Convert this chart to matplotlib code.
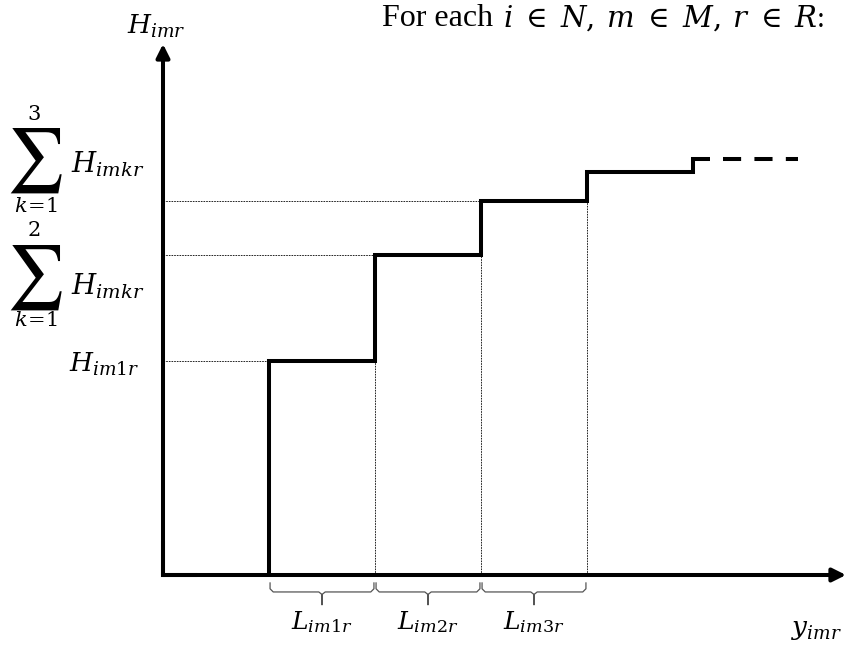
import numpy as np
import matplotlib
matplotlib.use("Agg")
import matplotlib.pyplot as plt

plt.rcParams['mathtext.fontset'] = 'dejavuserif'
plt.rcParams['font.family'] = ['Liberation Serif', 'DejaVu Serif']

# step function: breakpoints along y_imr and height increments H_imkr
breaks = [1.0, 2.0, 3.0, 4.0, 5.0]
increments = [2.02, 1.0, 0.51, 0.27, 0.12]
tail_end = 5.99
levels = np.cumsum(increments)
n_labeled = 3
seg_labels = [r'$L_{im1r}$', r'$L_{im2r}$', r'$L_{im3r}$']

# picture geometry: 106 px per unit, origin at pixel (163, 575)
W, H = 847, 646
U, OX, OY = 106.0, 163.0, 575.0


def pd(px, py):
    return (px - OX) / U, (OY - py) / U


fig = plt.figure(figsize=(W / 100, H / 100), dpi=100)
ax = fig.add_axes([0, 0, 1, 1])
ax.set_xlim(pd(0, 0)[0], pd(W, 0)[0])
ax.set_ylim(pd(0, H)[1], pd(0, 0)[1])
ax.axis('off')

lw_main = 2.9

# axes arrows
x_tip = pd(846, 0)[0]
y_tip = pd(0, 44)[1]
arrow = dict(arrowstyle='-|>', lw=lw_main, color='black', mutation_scale=20,
             shrinkA=0, shrinkB=0)
ax.plot([0, 0.3], [0, 0], color='black', lw=lw_main, solid_capstyle='projecting')
ax.plot([0, 0], [0, 0.3], color='black', lw=lw_main, solid_capstyle='projecting')
ax.annotate('', xy=(x_tip, 0), xytext=(0, 0), arrowprops=arrow)
ax.annotate('', xy=(0, y_tip), xytext=(0, 0), arrowprops=arrow)

# solid step line, last short piece then dashed continuation
xs = [breaks[0]]
ys = [0.0]
for i, b in enumerate(breaks):
    xs += [b, breaks[i + 1] if i + 1 < len(breaks) else b + 0.16]
    ys += [levels[i], levels[i]]
ax.plot(xs, ys, color='black', lw=lw_main, solid_joinstyle='miter',
        solid_capstyle='butt')
ax.plot([breaks[-1] + 0.28, tail_end], [levels[-1], levels[-1]], color='black',
        lw=lw_main, dashes=(4.5, 3.3), dash_capstyle='butt')

# dotted guides
dot = dict(color='black', lw=0.6, dashes=(2, 1.2))
for i in range(n_labeled):
    ax.plot([0, breaks[i + 1]], [levels[i], levels[i]], **dot)
    ax.plot([breaks[i + 1], breaks[i + 1]], [0, levels[i]], **dot)

# braces under the segments
b_top, b_mid, b_bot = -0.075, -0.16, -0.28
r = 0.03
for i in range(n_labeled):
    a, b = breaks[i], breaks[i + 1]
    m = (a + b) / 2
    bx = [a + 0.01, a + 0.01, a + 0.01 + r, m - r, m, m, m, m + r, b - 0.01 - r, b - 0.01, b - 0.01]
    by = [b_top, b_mid + r, b_mid, b_mid, b_mid - r * 0.8, b_bot, b_mid - r * 0.8, b_mid, b_mid, b_mid + r, b_top]
    ax.plot(bx, by, color='#555555', lw=0.9)
    ax.text(m, pd(0, 622)[1], seg_labels[i], fontsize=18, ha='center', va='center')

# axis labels
ax.text(*pd(156, 26), r'$H_{imr}$', fontsize=19, ha='center', va='center')
ax.text(*pd(817, 630), r'$y_{imr}$', fontsize=19, ha='center', va='center')

# y-level labels
ax.text(*pd(104, 364), r'$H_{im1r}$', fontsize=19, ha='center', va='center')
for (top, sig, bot, hy) in [('3', 161, 208, 164), ('2', 278, 321, 286)]:
    ax.text(*pd(34, sig - 46), r'$%s$' % top, fontsize=15, ha='center', va='center')
    ax.text(*pd(34, sig), r'$\sum$', fontsize=46, ha='center', va='center',
            math_fontfamily='stix')
    ax.text(*pd(36, bot), r'$k\!=\!1$', fontsize=15, ha='center', va='center')
    ax.text(*pd(108, hy), r'$H_{imkr}$', fontsize=20, ha='center', va='center')

ax.text(*pd(382, 18), 'For each', fontsize=23, ha='left', va='center')
ax.text(*pd(503, 18), r'$i\;\in\;N,\:m\;\in\;M,\:r\;\in\;R$:', fontsize=21,
        ha='left', va='center')

fig.savefig('out.png', dpi=100)
